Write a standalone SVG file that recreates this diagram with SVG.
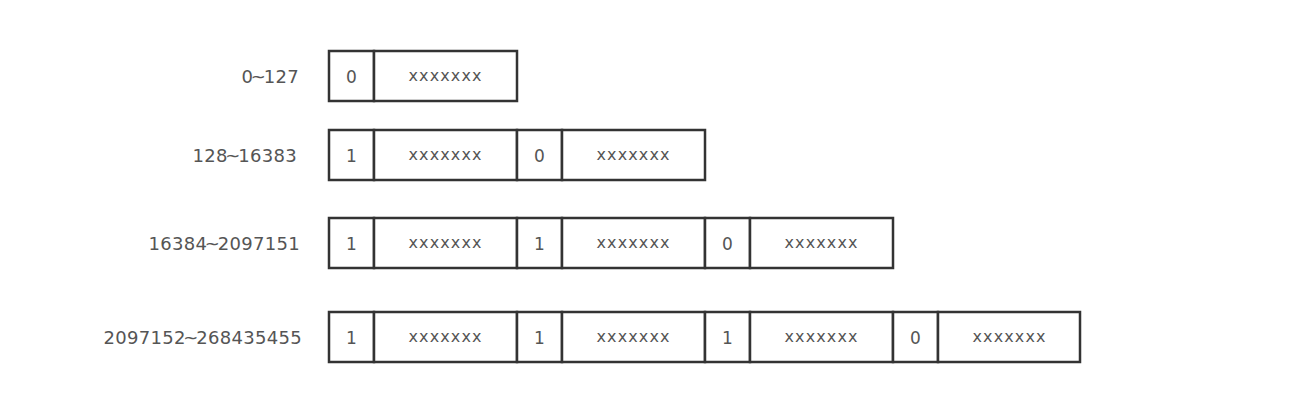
<svg xmlns="http://www.w3.org/2000/svg" width="1294" height="416" viewBox="0 0 1294 416">
<style>
.cell{fill:#fff;stroke:#333;stroke-width:2.5}
.lbl{font-family:"DejaVu Sans","Liberation Sans",sans-serif;font-size:18px;fill:#555;text-anchor:end;letter-spacing:0.3px}
.d{font-family:"DejaVu Sans","Liberation Sans",sans-serif;font-size:17px;fill:#555;text-anchor:middle}
.x{font-family:"DejaVu Sans","Liberation Sans",sans-serif;font-size:16px;fill:#555}
</style>
<rect width="1294" height="416" fill="#fff"/>
<g id="row1">
<text class="lbl" x="299" y="82.5">0<tspan dx="-2.5">~</tspan><tspan dx="-2.5">127</tspan></text>
<rect class="cell" x="329" y="51" width="45" height="50"/>
<rect class="cell" x="374" y="51" width="143" height="50"/>
<text class="d" x="351.5" y="82.5">0</text>
<text class="x" x="408.5" y="81" textLength="73" lengthAdjust="spacing">xxxxxxx</text>
</g>
<g id="row2">
<text class="lbl" x="297" y="161.5">128<tspan dx="-2.5">~</tspan><tspan dx="-2.5">16383</tspan></text>
<rect class="cell" x="329" y="130" width="45" height="50"/>
<rect class="cell" x="374" y="130" width="143" height="50"/>
<rect class="cell" x="517" y="130" width="45" height="50"/>
<rect class="cell" x="562" y="130" width="143" height="50"/>
<text class="d" x="351.5" y="161.5">1</text>
<text class="x" x="408.5" y="160" textLength="73" lengthAdjust="spacing">xxxxxxx</text>
<text class="d" x="539.5" y="161.5">0</text>
<text class="x" x="596.5" y="160" textLength="73" lengthAdjust="spacing">xxxxxxx</text>
</g>
<g id="row3">
<text class="lbl" x="300" y="249.5">16384<tspan dx="-2.5">~</tspan><tspan dx="-2.5">2097151</tspan></text>
<rect class="cell" x="329" y="218" width="45" height="50"/>
<rect class="cell" x="374" y="218" width="143" height="50"/>
<rect class="cell" x="517" y="218" width="45" height="50"/>
<rect class="cell" x="562" y="218" width="143" height="50"/>
<rect class="cell" x="705" y="218" width="45" height="50"/>
<rect class="cell" x="750" y="218" width="143" height="50"/>
<text class="d" x="351.5" y="249.5">1</text>
<text class="x" x="408.5" y="248" textLength="73" lengthAdjust="spacing">xxxxxxx</text>
<text class="d" x="539.5" y="249.5">1</text>
<text class="x" x="596.5" y="248" textLength="73" lengthAdjust="spacing">xxxxxxx</text>
<text class="d" x="727.5" y="249.5">0</text>
<text class="x" x="784.5" y="248" textLength="73" lengthAdjust="spacing">xxxxxxx</text>
</g>
<g id="row4">
<text class="lbl" x="302" y="343.5">2097152<tspan dx="-2.5">~</tspan><tspan dx="-2.5">268435455</tspan></text>
<rect class="cell" x="329" y="312" width="45" height="50"/>
<rect class="cell" x="374" y="312" width="143" height="50"/>
<rect class="cell" x="517" y="312" width="45" height="50"/>
<rect class="cell" x="562" y="312" width="143" height="50"/>
<rect class="cell" x="705" y="312" width="45" height="50"/>
<rect class="cell" x="750" y="312" width="143" height="50"/>
<rect class="cell" x="893" y="312" width="45" height="50"/>
<rect class="cell" x="938" y="312" width="142" height="50"/>
<text class="d" x="351.5" y="343.5">1</text>
<text class="x" x="408.5" y="342" textLength="73" lengthAdjust="spacing">xxxxxxx</text>
<text class="d" x="539.5" y="343.5">1</text>
<text class="x" x="596.5" y="342" textLength="73" lengthAdjust="spacing">xxxxxxx</text>
<text class="d" x="727.5" y="343.5">1</text>
<text class="x" x="784.5" y="342" textLength="73" lengthAdjust="spacing">xxxxxxx</text>
<text class="d" x="915.5" y="343.5">0</text>
<text class="x" x="972.5" y="342" textLength="73" lengthAdjust="spacing">xxxxxxx</text>
</g>
<g id="connectors"></g>
</svg>
